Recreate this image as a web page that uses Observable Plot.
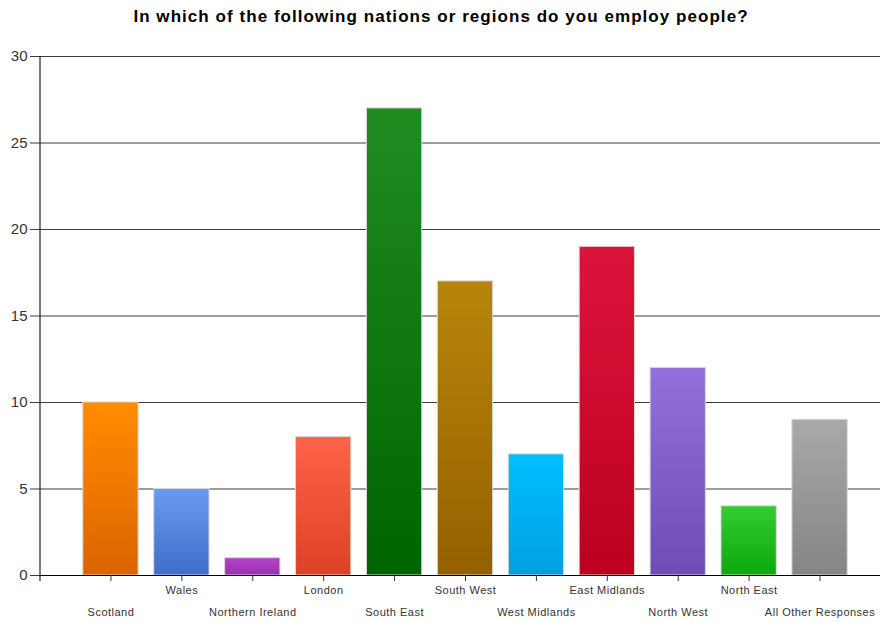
<!DOCTYPE html>
<html>
<head>
<meta charset="utf-8">
<script src="https://cdn.jsdelivr.net/npm/d3@7"></script>
<script src="https://cdn.jsdelivr.net/npm/@observablehq/plot@0.6"></script>
<style>
  body { margin: 0; background: #fff; }
  #title { height: 36px; font: bold 17px "Liberation Sans", Arial, sans-serif; line-height: 34px; text-align: center; letter-spacing: 1.05px; color: #000; }
  svg { display: block; }
  svg g[aria-label="x-axis tick label"] text { letter-spacing: 0.5px; }
</style>
</head>
<body>
<div id="title">In which of the following nations or regions do you employ people?</div>
<div id="chart"></div>
<script>
const categories = ["Scotland", "Wales", "Northern Ireland", "London", "South East", "South West", "West Midlands", "East Midlands", "North West", "North East", "All Other Responses"];
const values = [10, 5, 1, 8, 27, 17, 7, 19, 12, 4, 9];
const topColors = ["#ff8c00", "#6a9bf0", "#b344c8", "#ff6347", "#228b22", "#b8860b", "#00bfff", "#dc143c", "#9370db", "#32cd32", "#a9a9a9"];
const bottomColors = ["#dc6400", "#3e6ec8", "#9830b0", "#dc4224", "#006400", "#946000", "#00a0e0", "#bc0020", "#6e4cb8", "#0ca80c", "#858585"];
const yTicks = [0, 5, 10, 15, 20, 25, 30];

const data = categories.map((c, i) => ({category: c, value: values[i], fill: `url(#grad${i})`}));
const upper = categories.filter((c, i) => i % 2 === 1);
const lower = categories.filter((c, i) => i % 2 === 0);

const W = 882, H = 586, ML = 40, MR = 2, MT = 20, MB = 47;

const plot = Plot.plot({
  width: W,
  height: H,
  marginLeft: ML,
  marginRight: MR,
  marginTop: MT,
  marginBottom: MB,
  style: {fontFamily: "'Liberation Sans', Arial, sans-serif", background: "#fff"},
  x: {domain: categories, range: [75, 855], paddingInner: 0.22, paddingOuter: 0.11, round: false},
  y: {domain: [0, 30]},
  color: {type: "identity"},
  marks: [
    Plot.ruleY(yTicks, {stroke: "#3a3a3a", strokeWidth: 1}),
    Plot.barY(data, {x: "category", y: "value", fill: "fill", stroke: "#d8d8d8", strokeWidth: 1}),
    Plot.ruleY([0], {stroke: "#000", strokeWidth: 1.2}),
    Plot.axisY({ticks: yTicks, tickSize: 10, tickPadding: 3, fontSize: 15, color: "#333", stroke: "#3a3a3a", label: null}),
    Plot.axisX({ticks: upper, tickSize: 6, tickPadding: 5, fontSize: 11, color: "#333", label: null}),
    Plot.axisX({ticks: lower, tickSize: 6, fill: "none", stroke: "#333", label: null}),
    Plot.axisX({ticks: lower, tickSize: 0, tickPadding: 33, fontSize: 11, color: "#333", label: null})
  ]
});

// gradient definitions
const defs = d3.create("svg:defs");
categories.forEach((c, i) => {
  const g = defs.append("linearGradient").attr("id", `grad${i}`).attr("x1", 0).attr("y1", 0).attr("x2", 0).attr("y2", 1);
  g.append("stop").attr("offset", "0%").attr("stop-color", topColors[i]);
  g.append("stop").attr("offset", "100%").attr("stop-color", bottomColors[i]);
});
plot.insertBefore(defs.node(), plot.firstChild);

// vertical axis line at the left edge of the frame
const yr = plot.scale("y").range;
d3.select(plot).append("line")
  .attr("x1", ML).attr("x2", ML)
  .attr("y1", Math.min(...yr)).attr("y2", Math.max(...yr) + 6)
  .attr("stroke", "#222").attr("stroke-width", 1.2);

document.getElementById("chart").appendChild(plot);
</script>
</body>
</html>
